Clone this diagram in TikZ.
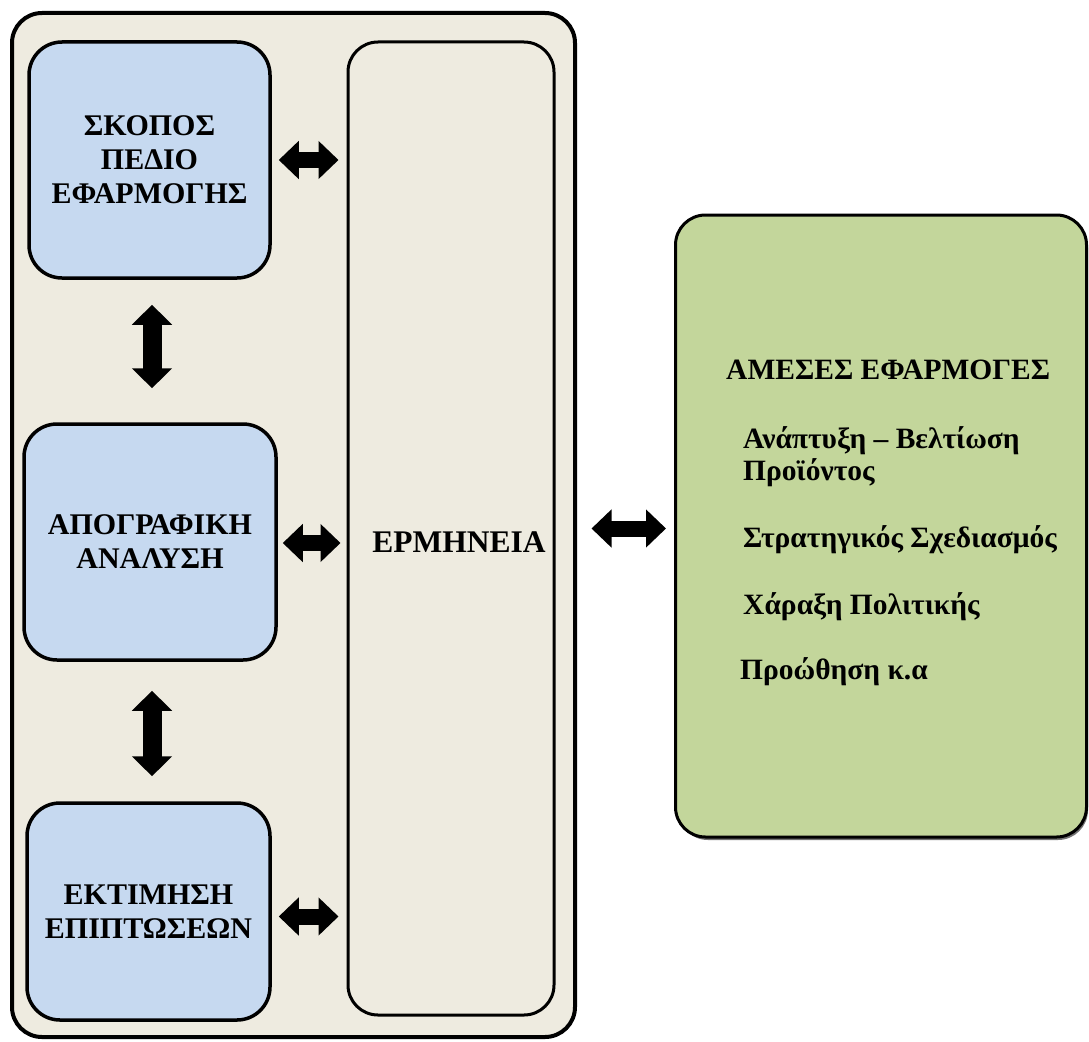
\documentclass[tikz,border=0pt]{standalone}
\usepackage{fontspec}
\setmainfont{Liberation Serif}
\usetikzlibrary{arrows.meta}
\definecolor{cBeige}{RGB}{238,235,224}
\definecolor{cBlue}{RGB}{198,217,240}
\definecolor{cGreen}{RGB}{195,214,155}
\begin{document}
\begin{tikzpicture}[x=1pt,y=-1pt,
  panel/.style={draw=black, fill=cBeige, rounded corners=30pt, line width=4pt, inner sep=0pt},
  colbox/.style={draw=black, fill=cBeige, rounded corners=30pt, line width=3pt, inner sep=0pt},
  bluebox/.style={draw=black, fill=cBlue, rounded corners=33pt, line width=3.5pt, inner sep=0pt,
    align=center, font=\fontsize{30}{34}\selectfont\bfseries},
  greenbox/.style={draw=black, fill=cGreen, rounded corners=30pt, line width=3pt, inner sep=0pt},
  gtext/.style={anchor=west, inner sep=0pt, align=left, font=\fontsize{29.5}{32}\selectfont\bfseries},
  btext/.style={inner sep=0pt, font=\fontsize{31.5}{34}\selectfont\bfseries},
  harrow/.style={line width=16pt, {Triangle[length=20pt,width=37pt]}-{Triangle[length=20pt,width=37pt]}},
  varrow/.style={line width=19pt, {Triangle[length=20pt,width=39pt]}-{Triangle[length=20pt,width=39pt]}},
]
\useasboundingbox (0,0) rectangle (1089,1041);
\fill[white] (0,0) rectangle (1089,1041);

\node[panel, minimum width=563pt, minimum height=1024pt] (outer) at (293.5,525) {};
\node[bluebox, minimum width=241pt, minimum height=236pt] (b1) at (149.5,160) {ΣΚΟΠΟΣ\\ΠΕΔΙΟ\\ΕΦΑΡΜΟΓΗΣ};
\node[bluebox, minimum width=252pt, minimum height=236pt] (b2) at (150,542) {ΑΠΟΓΡΑΦΙΚΗ\\ΑΝΑΛΥΣΗ};
\node[bluebox, minimum width=243pt, minimum height=217pt] (b3) at (148.5,911.5) {ΕΚΤΙΜΗΣΗ\\ΕΠΙΠΤΩΣΕΩΝ};
\node[colbox, minimum width=206pt, minimum height=973pt] (erm) at (451,528.5) {};
\node[btext] (ermlabel) at (459,542) {ΕΡΜΗΝΕΙΑ};

\fill[black!55, rounded corners=30pt] (678,218) rectangle (1088,840);
\node[greenbox, minimum width=411pt, minimum height=622pt] (gr) at (881,526) {};
\node[gtext] (g0) at (726,370) {ΑΜΕΣΕΣ ΕΦΑΡΜΟΓΕΣ};
\node[gtext] (g1) at (743,457) {Ανάπτυξη – Βελτίωση\\Προϊόντος};
\node[gtext] (g2) at (743,540) {Στρατηγικός Σχεδιασμός};
\node[gtext] (g3) at (743,607) {Χάραξη Πολιτικής};
\node[gtext] (g4) at (740,672) {Προώθηση κ.α};

% horizontal arrows
\coordinate (a1s) at ([xshift=7pt]b1.east);
\coordinate (a1e) at ([xshift=-8pt]erm.west |- a1s);
\draw[harrow] (a1s) -- (a1e);
\coordinate (a2s) at ([shift={(5,1)}]b2.east);
\coordinate (a2e) at ([xshift=-6pt]erm.west |- a2s);
\draw[harrow] (a2s) -- (a2e);
\coordinate (a3s) at ([shift={(7,5)}]b3.east);
\coordinate (a3e) at ([xshift=-8pt]erm.west |- a3s);
\draw[harrow] (a3s) -- (a3e);
\coordinate (a4s) at ([xshift=36pt]erm.east);
\coordinate (a4e) at ([xshift=-8pt]gr.west |- a4s);
\draw[harrow] (a4s) -- (a4e);

% vertical arrows
\coordinate (v1s) at ([shift={(2.5,25)}]b1.south);
\coordinate (v1e) at ([yshift=34pt]b2.north -| v1s);
\draw[varrow] (v1s) -- (v1e);
\coordinate (v2s) at ([shift={(2,29)}]b2.south);
\coordinate (v2e) at ([yshift=25pt]b3.north -| v2s);
\draw[varrow] (v2s) -- (v2e);
\end{tikzpicture}
\end{document}
